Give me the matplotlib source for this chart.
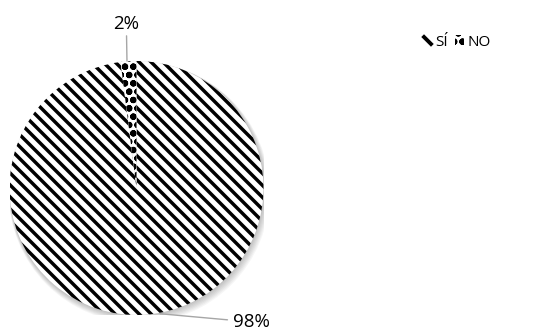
import numpy as np
import matplotlib.pyplot as plt
from matplotlib.patches import Circle, Patch
from matplotlib.lines import Line2D

plt.rcParams['font.family'] = ['Open Sans', 'DejaVu Sans']
plt.rcParams['hatch.linewidth'] = 2.2

# data
labels = ['SÍ', 'NO']
values = [98, 2]
pct_labels = ['98%', '2%']
hatches = ['\\', 'oo']

fig = plt.figure(figsize=(5.48, 3.3), dpi=100)
ax = fig.add_axes([9.5 / 548, 15 / 330, 254 / 548, 254 / 330])
ax.axis('off')

# soft shadow under the pie
for i in range(8):
    ax.add_patch(Circle((0.003 * i, -0.005 * i), 1.0 + 0.004 * i,
                        color='black', alpha=0.035, lw=0, zorder=0))

wedges, _ = ax.pie(values, startangle=90, counterclock=False, radius=1.0,
                   colors=['white', 'white'],
                   wedgeprops=dict(edgecolor='black', linewidth=0))
wedges[0].set_zorder(2)
wedges[1].set_hatch(hatches[1])
wedges[1].set_zorder(3)

ax.set_xlim(-1, 1)
ax.set_ylim(-1, 1)
ax.set_aspect('equal')

# thick diagonal stripes for the SÍ slice, clipped to the wedge
step = 12 / 127
for c in np.arange(-2.2, 2.2, step):
    ln, = ax.plot([-1.2, 1.2], [c + 1.2, c - 1.2], color='black', lw=2.5,
                  solid_capstyle='butt', zorder=2.5)
    ln.set_clip_path(wedges[0])

# data labels with leader lines
ax.annotate(pct_labels[1], xy=(-0.075, 1.0), xytext=(-0.08, 1.22),
            ha='center', va='bottom', fontsize=13.5, annotation_clip=False,
            arrowprops=dict(arrowstyle='-', color='#a6a6a6', lw=1,
                            shrinkA=0, shrinkB=0))
ax.annotate(pct_labels[0], xy=(0.185, -0.99), xytext=(0.76, -1.055),
            ha='left', va='center', fontsize=13.5, annotation_clip=False,
            arrowprops=dict(arrowstyle='-', color='#a6a6a6', lw=1,
                            shrinkA=2, shrinkB=0))

# legend: a thick diagonal stroke for SÍ, a dotted tile for NO
handles = [Line2D([], [], ls='none', marker=[(-1, 1), (1, -1)], markersize=7,
                  markeredgewidth=2.8, color='black'),
           Patch(facecolor='white', hatch=hatches[1], edgecolor='black', lw=0)]
fig.legend(handles, labels, loc='center left', bbox_to_anchor=(409 / 548, 1 - 42 / 330),
           ncol=2, frameon=False, fontsize=11, handlelength=0.6, handleheight=0.6,
           handletextpad=0.2, columnspacing=0.5)

fig.savefig('out.png', dpi=100)
